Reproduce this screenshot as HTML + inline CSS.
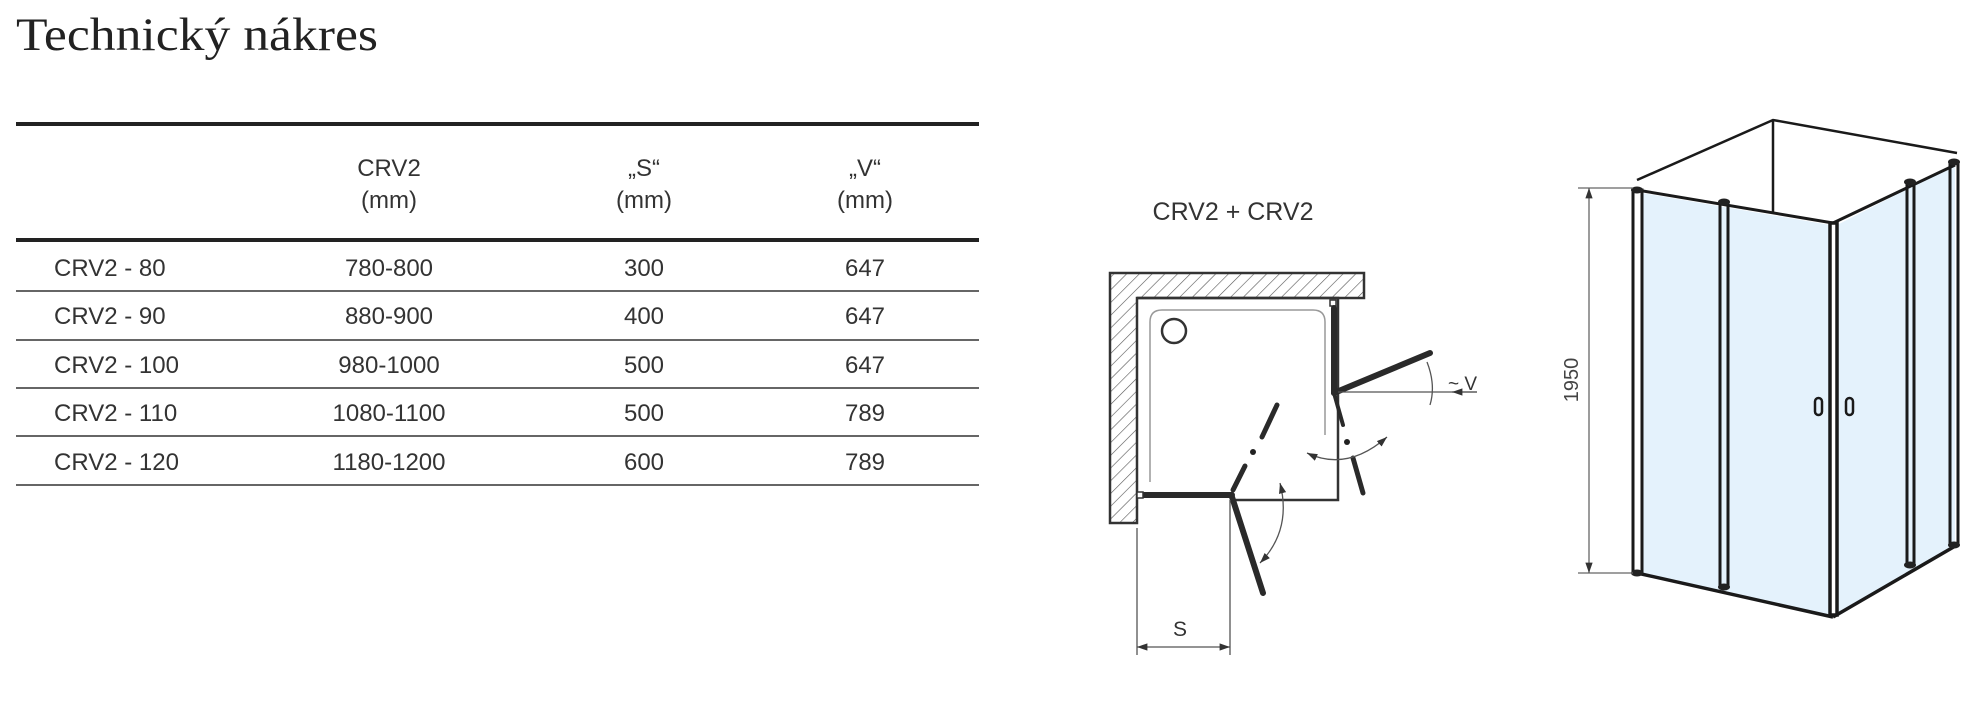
<!DOCTYPE html>
<html><head><meta charset="utf-8"><style>
html,body{margin:0;padding:0;background:#fff;width:1981px;height:712px;overflow:hidden}
svg{display:block}
.t{font-family:"Liberation Sans",sans-serif;font-size:24px;fill:#333}
</style></head><body>
<svg width="1981" height="712" viewBox="0 0 1981 712" xmlns="http://www.w3.org/2000/svg">
<defs>
<pattern id="h" width="9" height="9" patternUnits="userSpaceOnUse" patternTransform="rotate(45)">
<rect width="9" height="9" fill="#fff"/><line x1="0" y1="0" x2="0" y2="9" stroke="#555" stroke-width="1.2"/></pattern>
<marker id="a" viewBox="0 0 10 10" refX="10" refY="5" markerWidth="8" markerHeight="8" orient="auto-start-reverse"><path d="M0,1.5 L10,5 L0,8.5z" fill="#333"/></marker>
</defs>
<text x="16" y="50" font-family="Liberation Serif,serif" font-size="47" fill="#222" textLength="362" lengthAdjust="spacingAndGlyphs">Technický nákres</text>
<!-- table -->
<g stroke="#222">
<line x1="16" y1="124" x2="979" y2="124" stroke-width="4"/>
<line x1="16" y1="240" x2="979" y2="240" stroke-width="4"/>
</g>
<g stroke="#666" stroke-width="2">
<line x1="16" y1="291" x2="979" y2="291"/><line x1="16" y1="340" x2="979" y2="340"/>
<line x1="16" y1="388" x2="979" y2="388"/><line x1="16" y1="436" x2="979" y2="436"/>
<line x1="16" y1="485" x2="979" y2="485"/>
</g>
<g class="t" text-anchor="middle">
<text x="389" y="176">CRV2</text><text x="389" y="208">(mm)</text>
<text x="644" y="176">„S“</text><text x="644" y="208">(mm)</text>
<text x="865" y="176">„V“</text><text x="865" y="208">(mm)</text>
<text x="389" y="276">780-800</text><text x="644" y="276">300</text><text x="865" y="276">647</text>
<text x="389" y="324">880-900</text><text x="644" y="324">400</text><text x="865" y="324">647</text>
<text x="389" y="373">980-1000</text><text x="644" y="373">500</text><text x="865" y="373">647</text>
<text x="389" y="421">1080-1100</text><text x="644" y="421">500</text><text x="865" y="421">789</text>
<text x="389" y="470">1180-1200</text><text x="644" y="470">600</text><text x="865" y="470">789</text>
</g>
<g class="t">
<text x="54" y="276">CRV2 - 80</text><text x="54" y="324">CRV2 - 90</text>
<text x="54" y="373">CRV2 - 100</text><text x="54" y="421">CRV2 - 110</text>
<text x="54" y="470">CRV2 - 120</text>
</g>
<!-- plan diagram -->
<text x="1233" y="220" text-anchor="middle" font-family="Liberation Sans,sans-serif" font-size="25" fill="#333">CRV2 + CRV2</text>
<path d="M1110,273 H1364 V298 H1137 V523 H1110Z" fill="url(#h)" stroke="#333" stroke-width="2.5"/>
<path d="M1137,298 H1338 V500 H1232" fill="none" stroke="#333" stroke-width="2.5"/>
<path d="M1150,482 V322 Q1150,310 1162,310 H1313 Q1325,310 1325,322 V435" fill="none" stroke="#999" stroke-width="1.5"/>
<circle cx="1174" cy="331" r="12" fill="none" stroke="#333" stroke-width="2.5"/>
<rect x="1330" y="300" width="6" height="6" fill="#fff" stroke="#333" stroke-width="1.5"/>
<g stroke="#2a2a2a" stroke-width="6" stroke-linecap="round">
<line x1="1334" y1="308" x2="1334" y2="393"/>
<line x1="1334" y1="393" x2="1430" y2="353"/>
<line x1="1334" y1="393" x2="1343" y2="425" stroke-width="4"/>
<line x1="1140" y1="495" x2="1232" y2="495"/>
<line x1="1232" y1="497" x2="1263" y2="593"/>
<line x1="1277" y1="405" x2="1262" y2="437" stroke-width="5"/>
<line x1="1245" y1="466" x2="1233" y2="490" stroke-width="5"/>
<line x1="1353" y1="458" x2="1363" y2="493" stroke-width="5"/>
</g>
<rect x="1137" y="492" width="6" height="6" fill="#fff" stroke="#333" stroke-width="1.5"/>
<circle cx="1253" cy="452" r="3" fill="#222"/><circle cx="1347" cy="442" r="3" fill="#222"/>
<g fill="none" stroke="#555" stroke-width="1.3">
<line x1="1338" y1="392" x2="1477" y2="392"/>
<line x1="1477" y1="392" x2="1452" y2="392" marker-end="url(#a)"/>
<path d="M1427,362 Q1436,385 1430,405"/>
<path d="M1280,483 Q1292,530 1260,563" marker-start="url(#a)" marker-end="url(#a)"/>
<path d="M1307,453 Q1347,472 1387,437" marker-start="url(#a)" marker-end="url(#a)"/>
<line x1="1137" y1="528" x2="1137" y2="655"/>
<line x1="1230" y1="500" x2="1230" y2="655"/>
<line x1="1137" y1="647" x2="1230" y2="647" marker-start="url(#a)" marker-end="url(#a)"/>
</g>
<text x="1448" y="390" font-family="Liberation Sans,sans-serif" font-size="19" fill="#333">~ V</text>
<text x="1180" y="636" text-anchor="middle" font-family="Liberation Sans,sans-serif" font-size="21" fill="#333">S</text>
<!-- 3D drawing -->
<polygon points="1642,193 1830,225 1830,615 1642,573" fill="#e4f2fc"/>
<polygon points="1837,225 1955,165 1955,545 1837,617" fill="#e4f2fc"/>
<g fill="none" stroke="#1a1a1a" stroke-width="2.5">
<path d="M1637,180 L1773,120 L1957,153"/>
<line x1="1773" y1="120" x2="1773" y2="212"/>
<line x1="1637" y1="190" x2="1833" y2="223" stroke-width="3"/>
<line x1="1833" y1="223" x2="1955" y2="165" stroke-width="3"/>
<line x1="1637" y1="573" x2="1833" y2="617" stroke-width="3.5"/>
<line x1="1833" y1="617" x2="1957" y2="545" stroke-width="3.5"/>
<rect x="1633" y="190" width="9" height="383" stroke-width="3"/>
<rect x="1720" y="202" width="8" height="385" stroke-width="3"/>
<rect x="1830" y="223" width="7" height="392" stroke-width="3.5"/>
<rect x="1907" y="182" width="7" height="383" stroke-width="3"/>
<rect x="1950" y="162" width="8" height="383" stroke-width="3"/>
<rect x="1815" y="398" width="7" height="17" rx="3.5" stroke-width="2.5"/>
<rect x="1846" y="398" width="7" height="17" rx="3.5" stroke-width="2.5"/>
</g>
<g fill="#222">
<ellipse cx="1637" cy="190" rx="6" ry="3.5"/><ellipse cx="1724" cy="202" rx="6" ry="3.5"/>
<ellipse cx="1910" cy="182" rx="6" ry="3.5"/><ellipse cx="1954" cy="162" rx="6" ry="3.5"/>
<ellipse cx="1637" cy="573" rx="6" ry="3.5"/><ellipse cx="1724" cy="587" rx="6" ry="3.5"/>
<ellipse cx="1910" cy="565" rx="6" ry="3.5"/><ellipse cx="1954" cy="545" rx="6" ry="3.5"/>
</g>
<g stroke="#666" stroke-width="1.3" fill="none">
<line x1="1578" y1="188" x2="1633" y2="188"/><line x1="1578" y1="573" x2="1633" y2="573"/>
<line x1="1589" y1="188" x2="1589" y2="573" marker-start="url(#a)" marker-end="url(#a)"/>
</g>
<text transform="translate(1578,380) rotate(-90)" text-anchor="middle" font-family="Liberation Sans,sans-serif" font-size="20" fill="#444">1950</text>
</svg>
</body></html>
